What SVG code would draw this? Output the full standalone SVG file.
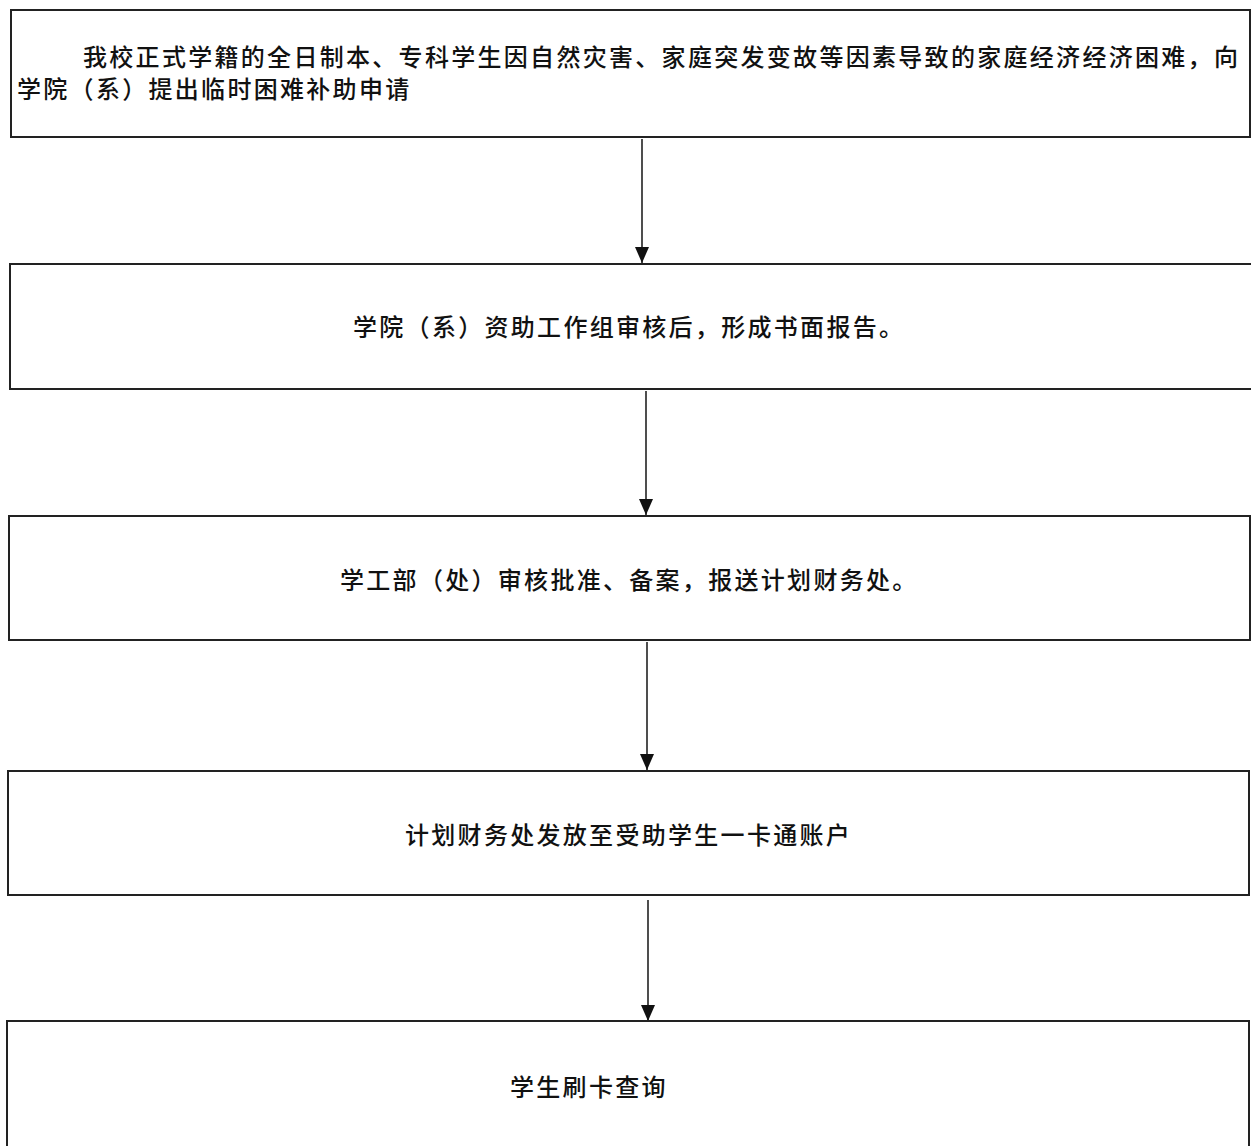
<svg xmlns="http://www.w3.org/2000/svg" width="1251" height="1146" viewBox="0 0 1251 1146">
<style>
.box{fill:#fff;stroke:#222;stroke-width:2}
.t{font-family:"Noto Sans CJK SC","Liberation Sans",sans-serif;font-size:24px;font-weight:500;fill:#111;letter-spacing:2.3px}
.c{stroke:#222;stroke-width:1.6;fill:none}
</style>
<defs>
<marker id="arr" markerWidth="16" markerHeight="14" refX="16" refY="7" orient="auto" markerUnits="userSpaceOnUse" viewBox="0 0 16 14">
<path d="M0,0 L16,7 L0,14 Z" fill="#111"/>
</marker>
</defs>
<rect width="1251" height="1146" fill="#fff"/>
<g id="connectors">
<line class="c" x1="642" y1="139" x2="642" y2="263" marker-end="url(#arr)"/>
<line class="c" x1="646" y1="391" x2="646" y2="515" marker-end="url(#arr)"/>
<line class="c" x1="647" y1="642" x2="647" y2="770" marker-end="url(#arr)"/>
<line class="c" x1="648" y1="900" x2="648" y2="1021" marker-end="url(#arr)"/>
</g>
<g id="n1">
<rect class="box" x="11" y="10" width="1239" height="127"/>
<text class="t" x="83" y="66">我校正式学籍的全日制本、专科学生因自然灾害、家庭突发变故等因素导致的家庭经济经济困难，向</text>
<text class="t" x="17" y="98">学院（系）提出临时困难补助申请</text>
</g>
<g id="n2">
<rect class="box" x="10" y="264" width="1245" height="125"/>
<text class="t" x="353" y="336">学院（系）资助工作组审核后，形成书面报告。</text>
</g>
<g id="n3">
<rect class="box" x="9" y="516" width="1241" height="124"/>
<text class="t" x="340" y="589">学工部（处）审核批准、备案，报送计划财务处。</text>
</g>
<g id="n4">
<rect class="box" x="8" y="771" width="1241" height="124"/>
<text class="t" x="405" y="844">计划财务处发放至受助学生一卡通账户</text>
</g>
<g id="n5">
<rect class="box" x="7" y="1021" width="1242" height="135"/>
<text class="t" x="510" y="1096">学生刷卡查询</text>
</g>
</svg>
